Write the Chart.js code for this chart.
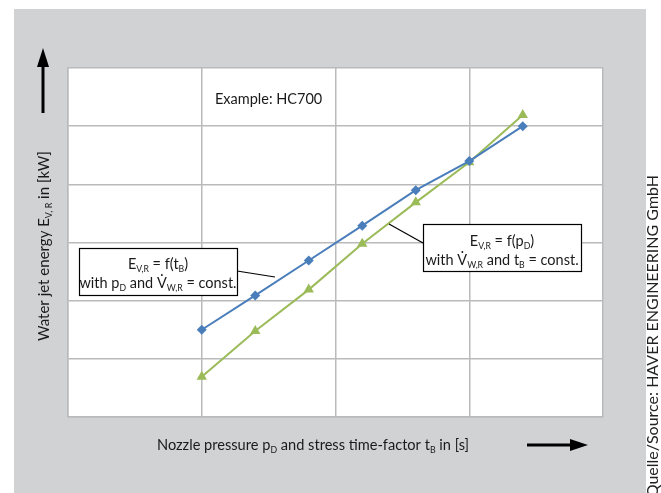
<!DOCTYPE html>
<html>
<head>
<meta charset="utf-8">
<script src="https://cdn.jsdelivr.net/npm/chart.js@4.4.0/dist/chart.umd.min.js"></script>
<style>
  html, body { margin: 0; padding: 0; background: #fff; }
  #wrap { width: 661px; height: 493px; }
</style>
</head>
<body>
<div id="wrap"><canvas id="myChart" width="661" height="493"></canvas></div>
<script>
// values (x in grid units, y in grid units of the plot)
let InfoX = [1, 1.4, 1.8, 2.2, 2.6, 3.0, 3.4];
let InfoTiempo = [1.50, 2.09, 2.69, 3.29, 3.90, 4.40, 5.00];   // E = f(tB), blue
let InfoPresion = [0.69, 1.48, 2.19, 2.98, 3.69, 4.38, 5.19];  // E = f(pD), green

let azul = '#4a7ebb';
let verde = '#9bbb59';
let gris = '#d1d2d4';
let rejilla = '#b9babc';
let fuente = 'Lato, "Open Sans", sans-serif';

// draws text with subscripts; parts = [[text, isSub], ...]
function textoRico(ctx, parts, x, y, size, align){
    let total = 0;
    parts.forEach(p => {
        ctx.font = (p[1] ? size * 0.6 : size) + 'px ' + fuente;
        total += ctx.measureText(p[0]).width;
    });
    let cx = align == 'center' ? x - total / 2 : x;
    ctx.textAlign = 'left';
    ctx.textBaseline = 'alphabetic';
    parts.forEach(p => {
        ctx.font = (p[1] ? size * 0.6 : size) + 'px ' + fuente;
        ctx.fillText(p[0], cx, p[1] ? y + size * 0.22 : y);
        cx += ctx.measureText(p[0]).width;
    });
}

let fondo = {
    id: 'fondo',
    beforeDraw(chart){
        let ctx = chart.ctx, a = chart.chartArea;
        ctx.save();
        ctx.fillStyle = '#fff';
        ctx.fillRect(0, 0, chart.width, chart.height);
        ctx.fillStyle = gris;
        ctx.fillRect(14, 9, 632, 484);
        ctx.fillStyle = '#fff';
        ctx.fillRect(a.left, a.top, a.right - a.left, a.bottom - a.top);
        ctx.restore();
    }
};

let textos = {
    id: 'textos',
    afterDraw(chart){
        let ctx = chart.ctx, a = chart.chartArea;
        ctx.save();
        ctx.fillStyle = '#1a1a1a';
        ctx.strokeStyle = '#000';

        // example label
        ctx.font = '14.5px ' + fuente;
        ctx.textAlign = 'left';
        ctx.textBaseline = 'middle';
        ctx.fillText('Example: HC700', 215, 99);

        // x title + arrow
        textoRico(ctx, [['Nozzle pressure p', 0], ['D', 1], [' and stress time-factor t', 0], ['B', 1], [' in [s]', 0]], 313, 450, 14.6, 'center');
        ctx.lineWidth = 3;
        ctx.beginPath(); ctx.moveTo(527, 445); ctx.lineTo(575, 445); ctx.stroke();
        ctx.fillStyle = '#000';
        ctx.beginPath(); ctx.moveTo(588, 445); ctx.lineTo(570, 439); ctx.lineTo(570, 451); ctx.closePath(); ctx.fill();

        // y title + arrow
        ctx.save();
        ctx.translate(49, 246);
        ctx.rotate(-Math.PI / 2);
        ctx.fillStyle = '#1a1a1a';
        textoRico(ctx, [['Water jet energy E', 0], ['V, R', 1], [' in [kW]', 0]], 0, 0, 15, 'center');
        ctx.restore();
        ctx.lineWidth = 3;
        ctx.beginPath(); ctx.moveTo(43, 113); ctx.lineTo(43, 62); ctx.stroke();
        ctx.beginPath(); ctx.moveTo(43, 48); ctx.lineTo(37, 67); ctx.lineTo(49, 67); ctx.closePath(); ctx.fill();

        // source
        ctx.save();
        ctx.translate(658, 175);
        ctx.rotate(-Math.PI / 2);
        ctx.font = '16px ' + fuente;
        ctx.fillStyle = '#222';
        ctx.textAlign = 'right';
        ctx.textBaseline = 'alphabetic';
        ctx.fillText('Quelle/Source: HAVER ENGINEERING GmbH', 0, 0);
        ctx.restore();

        // callout boxes
        ctx.lineWidth = 1.2;
        ctx.strokeStyle = '#000';
        ctx.beginPath(); ctx.moveTo(237, 271); ctx.lineTo(275, 277); ctx.stroke();
        ctx.beginPath(); ctx.moveTo(389, 224); ctx.lineTo(423, 243); ctx.stroke();

        ctx.fillStyle = '#fff';
        ctx.fillRect(79, 248, 158, 47);
        ctx.strokeRect(79.5, 248.5, 158, 47);
        ctx.fillRect(423, 224, 158, 47);
        ctx.strokeRect(423.5, 224.5, 158, 47);

        ctx.fillStyle = '#1a1a1a';
        textoRico(ctx, [['E', 0], ['V,R', 1], [' = f(t', 0], ['B', 1], [')', 0]], 158, 269, 14.5, 'center');
        textoRico(ctx, [['with p', 0], ['D', 1], [' and V\u0307', 0], ['W,R', 1], [' = const.', 0]], 158, 288, 14.5, 'center');
        textoRico(ctx, [['E', 0], ['V,R', 1], [' = f(p', 0], ['D', 1], [')', 0]], 502, 246, 14.5, 'center');
        textoRico(ctx, [['with V\u0307', 0], ['W,R', 1], [' and t', 0], ['B', 1], [' = const.', 0]], 502, 265, 14.5, 'center');
        ctx.restore();
    }
};

let ctx = document.getElementById('myChart').getContext('2d');
let chart = new Chart(ctx, {
    type: 'line',
    data: {
        datasets: [
            {
                label: 'E = f(tB)',
                data: InfoX.map((x, i) => ({x: x, y: InfoTiempo[i]})),
                borderColor: azul,
                backgroundColor: azul,
                borderWidth: 2,
                pointStyle: 'rectRot',
                pointRadius: 5,
                pointBorderWidth: 0
            },
            {
                label: 'E = f(pD)',
                data: InfoX.map((x, i) => ({x: x, y: InfoPresion[i]})),
                borderColor: verde,
                backgroundColor: verde,
                borderWidth: 2,
                pointStyle: 'triangle',
                pointRadius: 6,
                pointBorderWidth: 0
            }
        ]
    },
    options: {
        responsive: false,
        animation: false,
        layout: { padding: { left: 68, top: 68, right: 58, bottom: 76 } },
        plugins: { legend: { display: false }, tooltip: { enabled: false } },
        scales: {
            x: {
                type: 'linear', min: 0, max: 4,
                ticks: { display: false, stepSize: 1 },
                grid: { color: rejilla, lineWidth: 1.5, drawTicks: false },
                border: { color: rejilla, width: 1.5 }
            },
            y: {
                type: 'linear', min: 0, max: 6,
                ticks: { display: false, stepSize: 1 },
                grid: { color: rejilla, lineWidth: 1.5, drawTicks: false },
                border: { color: rejilla, width: 1.5 }
            }
        }
    },
    plugins: [fondo, textos]
});
</script>
</body>
</html>
